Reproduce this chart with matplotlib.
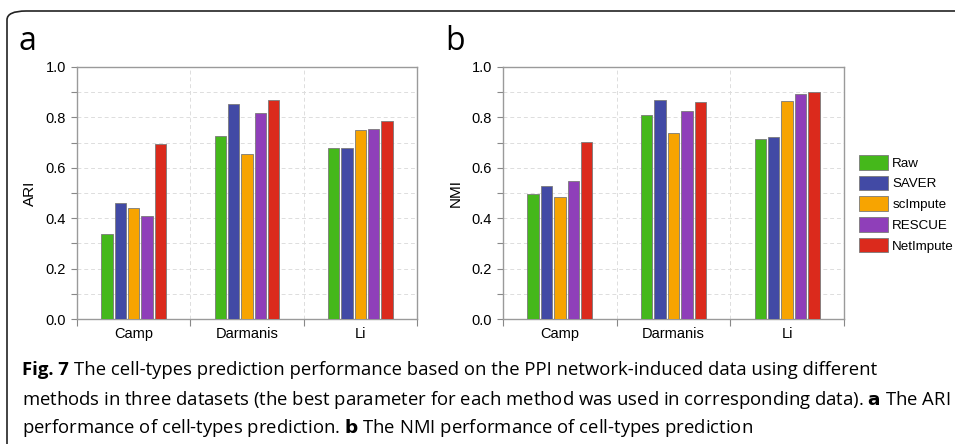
import matplotlib
matplotlib.use("Agg")
import matplotlib.pyplot as plt
import numpy as np
from matplotlib.patches import Patch, FancyBboxPatch

datasets = ["Camp", "Darmanis", "Li"]
methods = ["Raw", "SAVER", "scImpute", "RESCUE", "NetImpute"]
colors = ["#45b81b", "#424aa5", "#f7a401", "#8f3fb9", "#db2a1c"]

ari = {
    "Raw":       [0.337, 0.725, 0.678],
    "SAVER":     [0.461, 0.853, 0.680],
    "scImpute":  [0.441, 0.655, 0.749],
    "RESCUE":    [0.408, 0.816, 0.753],
    "NetImpute": [0.695, 0.868, 0.787],
}
nmi = {
    "Raw":       [0.495, 0.811, 0.716],
    "SAVER":     [0.528, 0.869, 0.723],
    "scImpute":  [0.483, 0.740, 0.865],
    "RESCUE":    [0.546, 0.827, 0.893],
    "NetImpute": [0.703, 0.863, 0.900],
}
yticks = [0.0, 0.2, 0.4, 0.6, 0.8, 1.0]

plt.rcParams["font.family"] = ["Liberation Sans", "DejaVu Sans"]

W, H = 955, 444
fig = plt.figure(figsize=(W / 100, H / 100), dpi=100)

def ax_rect(l, t, r, b):
    return [l / W, 1 - b / H, (r - l) / W, (b - t) / H]

def draw(ax, data, ylabel):
    x = np.arange(len(datasets))
    step = 0.118
    bw = 0.1
    for i, m in enumerate(methods):
        ax.bar(x + (i - 2) * step, data[m], width=bw, color=colors[i],
               edgecolor="#7a7a7a", linewidth=0.6, zorder=3)
    ax.set_xlim(-0.5, 2.5)
    ax.set_ylim(0, 1.0)
    ax.set_yticks(yticks)
    ax.set_yticklabels([f"{v:.1f}" for v in yticks])
    ax.set_yticks(np.arange(0.1, 1.0, 0.2), minor=True)
    ax.set_xticks([-0.5, 0.5, 1.5, 2.5])
    ax.set_xticklabels([])
    ax.set_xticks(x, minor=True)
    ax.set_xticklabels(datasets, minor=True)
    ax.tick_params(axis="x", which="minor", length=0, pad=6, labelsize=10.5)
    ax.tick_params(axis="x", which="major", length=5, color="#888888", width=0.8)
    ax.tick_params(axis="y", which="both", length=4, color="#888888", width=0.8,
                   labelsize=10.5, pad=4)
    for s in ax.spines.values():
        s.set_color("#9a9a9a")
        s.set_linewidth(1.0)
    for v in np.arange(0.1, 1.0, 0.1):
        ax.axhline(v, color="#dddddd", linestyle=(0, (4, 3)), linewidth=0.7, zorder=1)
    for v in [0.5, 1.5]:
        ax.axvline(v, color="#dddddd", linestyle=(0, (4, 3)), linewidth=0.7, zorder=1)
    ax.set_ylabel(ylabel, fontsize=11, labelpad=6)

ax1 = fig.add_axes(ax_rect(77, 67, 417, 319))
draw(ax1, ari, "ARI")
ax2 = fig.add_axes(ax_rect(503, 67, 844, 319))
draw(ax2, nmi, "NMI")

handles = [Patch(facecolor=c, edgecolor="#7a7a7a", linewidth=0.6) for c in colors]
fig.legend(handles, methods, loc="upper left", bbox_to_anchor=(859 / W, 1 - 155 / H),
           frameon=False, fontsize=9.6, handlelength=2.2, handleheight=1.3,
           handletextpad=0.3, labelspacing=0.45, borderaxespad=0, borderpad=0)

cap = ["Open Sans", "DejaVu Sans"]
fig.text(18 / W, 1 - 50 / H, "a", fontsize=23, family=cap, ha="left", va="baseline")
fig.text(445 / W, 1 - 50 / H, "b", fontsize=23, family=cap, ha="left", va="baseline")

# caption box
box = FancyBboxPatch((7 / W, -0.5), 2.0, 1 - 11 / H + 0.5,
                     boxstyle="round,pad=0,rounding_size=0.02",
                     transform=fig.transFigure, fill=False, edgecolor="#222222",
                     linewidth=1.2, clip_on=False)
fig.patches.append(box)

fs = 13.3
y1, y2, y3 = 1 - 375 / H, 1 - 405 / H, 1 - 433 / H
fig.text(22 / W, y1, "Fig. 7", fontsize=fs, family=cap, weight="bold", va="baseline")
fig.text(74 / W, y1, "The cell-types prediction performance based on the PPI network-induced data using different",
         fontsize=fs, family=cap, va="baseline")
fig.text(22 / W, y2, "methods in three datasets (the best parameter for each method was used in corresponding data). $\\bf{a}$ The ARI",
         fontsize=fs, family=cap, va="baseline")
fig.text(22 / W, y3, "performance of cell-types prediction. $\\bf{b}$ The NMI performance of cell-types prediction",
         fontsize=fs, family=cap, va="baseline")

fig.savefig("out.png", dpi=100)
